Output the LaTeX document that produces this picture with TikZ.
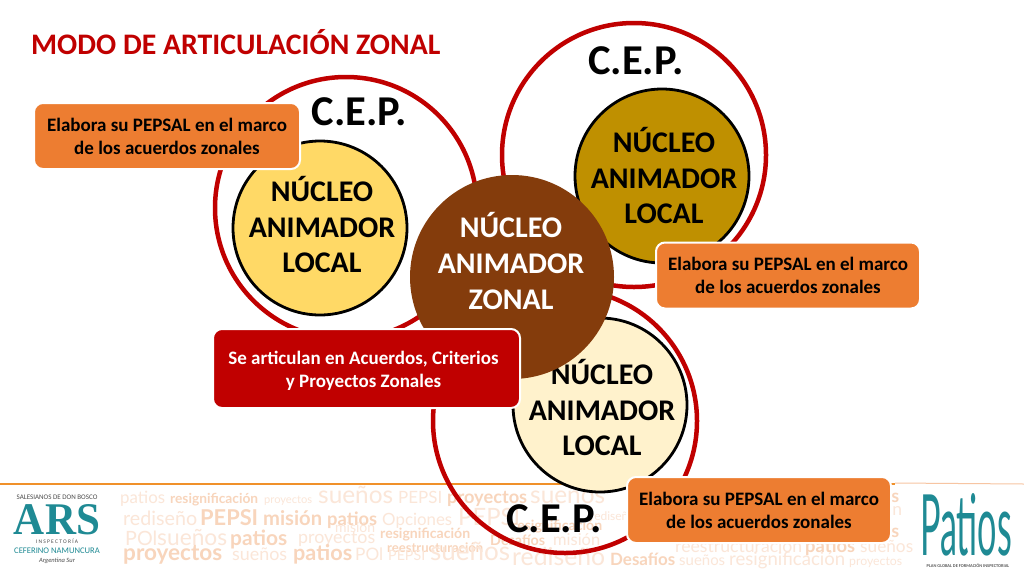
\documentclass[tikz,border=0pt]{standalone}
\usepackage{fontspec}
\usepackage{graphicx}
\setmainfont{Carlito}
\newfontfamily\wmfont{Lato}
\newfontfamily\logofont{Liberation Serif}
\newcounter{wcount}
% x, baseline y, width, text
\newcommand{\Wb}[4]{\stepcounter{wcount}\node[wm,text=wmA] (w\thewcount) at (#1,#2) {\resizebox{#3pt}{!}{\wmfont\bfseries #4}};}
\newcommand{\Wl}[4]{\stepcounter{wcount}\node[wm,text=wmB] (w\thewcount) at (#1,#2) {\resizebox{#3pt}{!}{\wmfont #4}};}
\definecolor{ringred}{HTML}{C00000}
\definecolor{orangebox}{HTML}{ED7D31}
\definecolor{brownc}{HTML}{843C0C}
\definecolor{goldc}{HTML}{BF9000}
\definecolor{yellowc}{HTML}{FFD966}
\definecolor{creamc}{HTML}{FFF2CC}
\definecolor{wmA}{HTML}{F8D5BC}
\definecolor{wmB}{HTML}{FBE6D8}
\definecolor{tealc}{HTML}{1F8A94}
\tikzset{
 wm/.style={anchor=base west,inner sep=0pt},
 ring/.style={circle,draw=ringred,line width=4.5pt,inner sep=0pt},
 core/.style={circle,draw=black,line width=2.8pt,inner sep=0pt,minimum size=174pt},
 hub/.style={circle,fill=brownc,inner sep=0pt,minimum size=204pt},
 disc/.style={inner sep=0pt,align=center,text=black,font=\fontsize{30}{35.7}\selectfont\bfseries},
 cep/.style={text=black,inner sep=0pt,font=\fontsize{42.5}{44}\selectfont\bfseries},
 notebox/.style={rounded corners=9pt,draw=white,line width=2pt,fill=orangebox,align=center,text=black,inner sep=0pt,font=\fontsize{19}{23}\selectfont\bfseries},
}
\begin{document}
\begin{tikzpicture}[x=1pt,y=-1pt]
\useasboundingbox (0,0) rectangle (1024,576);
\fill[white] (0,0) rectangle (1024,576);
% watermark band
\Wl{120}{503}{45}{patios}
\Wb{170}{503}{88}{resignificación}
\Wl{264}{503}{48}{proyectos}
\Wl{318}{503}{75}{sueños}
\Wl{398}{503}{44}{PEPSI}
\Wb{447}{503}{80}{proyectos}
\Wl{530}{503}{75}{sueños}
\Wl{123}{525}{74}{rediseño}
\Wb{200}{525}{58}{PEPSI}
\Wb{263}{525}{59}{misión}
\Wb{327}{525}{50}{patios}
\Wl{382}{525}{70}{Opciones}
\Wl{458}{525}{62}{PEPSI}
\Wl{125}{545}{32}{POl}
\Wl{157}{545}{70}{sueños}
\Wb{230}{545}{57}{patios}
\Wl{298}{543}{77}{proyectos}
\Wl{335}{532}{40}{misión}
\Wb{380}{538}{90}{resignificación}
\Wb{387}{552}{96}{reestructuración}
\Wl{590}{520}{45}{rediseño}
\Wb{512}{530}{90}{resignificación}
\Wb{490}{545}{55}{Desafíos}
\Wl{553}{545}{47}{misión}
\Wb{123}{560}{99}{proyectos}
\Wl{232}{560}{55}{sueños}
\Wb{293}{560}{59}{patios}
\Wl{355}{560}{28}{POl}
\Wl{388}{560}{37}{PEPSI}
\Wl{430}{560}{80}{sueños}
\Wl{512}{565}{93}{rediseño}
\Wb{610}{565}{65}{Desafíos}
\Wl{679}{565}{46}{sueños}
\Wl{729}{565}{116}{resignificación}
\Wl{849}{565}{53}{proyectos}
\Wl{675}{552}{127}{reestructuración}
\Wb{805}{552}{50}{patios}
\Wl{860}{552}{53}{sueños}
\Wb{850}{502}{49}{patios}
\Wl{852}{515}{50}{misión}
\Wb{850}{537}{49}{patios}
% orange rule
\draw[orangebox!85!yellow,line width=2pt] (0,484) -- (895,484);
\draw[orangebox!45!white,line width=1pt] (895,483) -- (1024,484);
% ARS logo
\node[inner sep=0pt,text=black!70,font=\fontsize{7}{8}\selectfont] (saltxt) at (57,497) {SALESIANOS DE DON BOSCO};
\node[inner sep=0pt,text=tealc] (arstxt) at (57,520) {\resizebox{86pt}{30pt}{\logofont\bfseries ARS}};
\node[inner sep=0pt,text=black!70,font=\fontsize{5.5}{6}\selectfont] (instxt) at (57,541) {I N S P E C T O R Í A};
\node[inner sep=0pt,text=tealc,font=\fontsize{8.6}{9}\selectfont] (cefer) at (57,550.5) {CEFERINO NAMUNCURA};
\node[inner sep=0pt,text=black!70,font=\fontsize{6.5}{7}\itshape] (argsur) at (57,561) {Argentina Sur};
% Patios logo
\node[inner sep=0pt,text=tealc] (patlogo) at (966,525) {\resizebox{92pt}{62pt}{\wmfont Patios}};
\node[inner sep=0pt,text=black!65,font=\fontsize{4.4}{5}\selectfont\bfseries] (plan) at (968,566) {PLAN GLOBAL DE FORMACIÓN INSPECTORIAL};
% rings
\node[ring,minimum size=262pt] (r1) at (346,208) {};
\node[ring,minimum size=264pt] (r2) at (634,155) {};
\node[ring,minimum size=264pt] (r3) at (565,421) {};
% local cores
\node[core,fill=yellowc] (c1) at (320,228) {};
\node[core,fill=goldc] (c2) at (662,176) {};
\node[core,fill=creamc] (c3) at (600,405) {};
\node[disc] (c1t) at (322,224.5) {NÚCLEO\\ANIMADOR\\LOCAL};
\node[disc] (c2t) at (664,175.5) {NÚCLEO\\ANIMADOR\\LOCAL};
\node[disc] (c3t) at (602,407.5) {NÚCLEO\\ANIMADOR\\LOCAL};
% hub
\node[hub] (hub) at (512,277) {};
\node[disc,text=white] (hubt) at (511,261) {NÚCLEO\\ANIMADOR\\ZONAL};
% labels
\node[cep] (l1) at (359.5,112) {C.E.P.};
\node[cep] (l2) at (636,61) {C.E.P.};
\node[cep] (l3) at (554,519) {C.E.P.};
\node[anchor=west,inner sep=0pt,text=ringred,font=\fontsize{29.8}{30}\selectfont\bfseries] (title) at (31,42) {MODO DE ARTICULACIÓN ZONAL};
% boxes
\node[notebox,minimum width=266pt,minimum height=66pt] (b1) at (167,136) {Elabora su PEPSAL en el marco\\de los acuerdos zonales};
\node[notebox,minimum width=264pt,minimum height=66pt] (b2) at (788,275.5) {Elabora su PEPSAL en el marco\\de los acuerdos zonales};
\node[notebox,minimum width=264pt,minimum height=66pt] (b3) at (759,510) {Elabora su PEPSAL en el marco\\de los acuerdos zonales};
\node[notebox,fill=ringred,text=white,minimum width=307pt,minimum height=79pt] (b4) at (366.5,368.5) {\rule{0pt}{18pt}Se articulan en Acuerdos, Criterios\hspace*{6pt}\\y Proyectos Zonales\hspace*{6pt}};
\end{tikzpicture}
\end{document}
